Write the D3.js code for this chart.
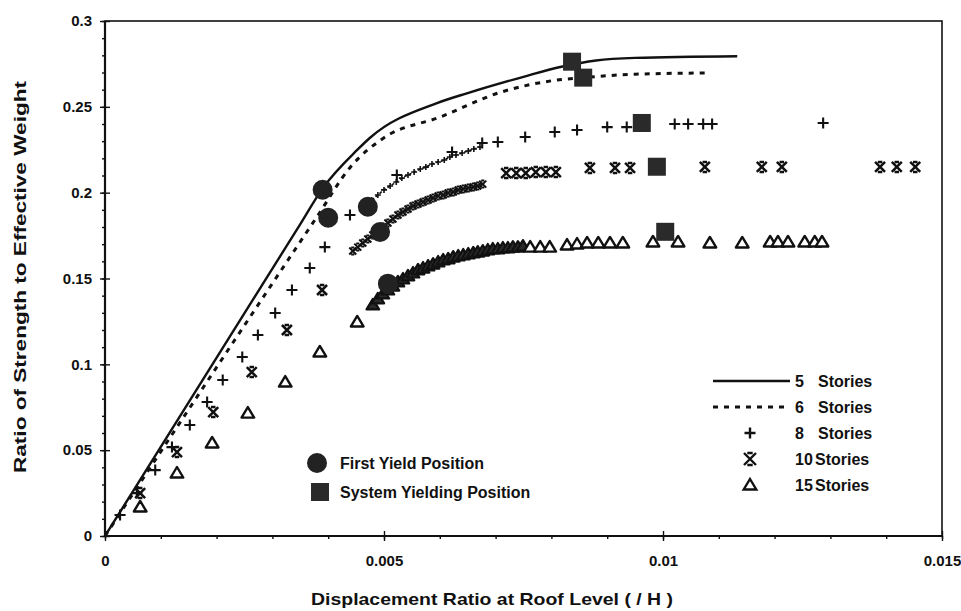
<!DOCTYPE html>
<html>
<head>
<meta charset="utf-8">
<script src="https://cdn.jsdelivr.net/npm/d3@7"></script>
<style>
  body { margin: 0; background: #fff; }
  svg text { font-family: "Liberation Sans", Arial, sans-serif; font-weight: bold; fill: #111; }
</style>
</head>
<body>
<svg id="chart" width="961" height="611"></svg>
<script>
// tick values
const xTicks = [0, 0.005, 0.01, 0.015];
const yTicks = [0, 0.05, 0.1, 0.15, 0.2, 0.25, 0.3];
const seriesNumbers = ["5", "6", "8", "10", "15"];

// 5 stories (solid line)
const stories5 = [[0, 0], [0.0035, 0.1817], [0.0039, 0.2025], [0.00452, 0.2249], [0.00475, 0.232], [0.00595, 0.2522],
  [0.0065, 0.258], [0.0075, 0.2675], [0.0082, 0.2735], [0.0088, 0.277], [0.0095, 0.2785], [0.01133, 0.2795]];
// 6 stories (dashed line)
const stories6 = [[0, 0], [0.0038, 0.186], [0.0044, 0.215], [0.005, 0.232], [0.006, 0.244], [0.0071, 0.2586],
  [0.0081, 0.2656], [0.00857, 0.267], [0.0095, 0.269], [0.01075, 0.2697]];

// 8 stories (+)
const stories8 = [[0.00027, 0.0122], [0.00057, 0.025], [0.0009, 0.0384], [0.0012, 0.0518], [0.00152, 0.0647],
  [0.00183, 0.0781], [0.00211, 0.0909], [0.00246, 0.1043], [0.00274, 0.1171], [0.00305, 0.1299], [0.00335, 0.1433],
  [0.00367, 0.1561], [0.00394, 0.1683], [0.00439, 0.187], [0.00523, 0.2103], [0.00622, 0.2237], [0.00676, 0.2289],
  [0.00704, 0.2295], [0.00753, 0.2324], [0.00806, 0.2353], [0.00846, 0.2365], [0.009, 0.2382], [0.00935, 0.2382],
  [0.01021, 0.24], [0.01045, 0.24], [0.01072, 0.24], [0.01088, 0.24], [0.01287, 0.2406]];
const stories8Dense = [[0.00478, 0.1957], [0.00489, 0.1986], [0.005, 0.2016], [0.00511, 0.2039], [0.00522, 0.2062],
  [0.00532, 0.2085], [0.00543, 0.2103], [0.00554, 0.212], [0.00565, 0.2138], [0.00575, 0.2149], [0.00586, 0.2167],
  [0.00597, 0.2179], [0.00608, 0.219], [0.00618, 0.2208], [0.00629, 0.2219], [0.0064, 0.2231], [0.00651, 0.2243],
  [0.00661, 0.2254], [0.00672, 0.2266]];

// 10 stories (star)
const stories10 = [[0.00063, 0.025], [0.00129, 0.0489], [0.00194, 0.0722], [0.00263, 0.0955], [0.00326, 0.12],
  [0.00389, 0.1433], [0.00719, 0.2114], [0.00737, 0.2114], [0.00754, 0.2114], [0.00772, 0.212], [0.0079, 0.212],
  [0.00808, 0.212], [0.00869, 0.2144], [0.00914, 0.2144], [0.00941, 0.2144], [0.01075, 0.215], [0.01177, 0.215],
  [0.01213, 0.215], [0.01389, 0.215], [0.01419, 0.215], [0.01452, 0.215]];
const stories10Dense = [[0.00444, 0.166], [0.00453, 0.1683], [0.00462, 0.1707], [0.00471, 0.173], [0.0048, 0.1753],
  [0.00489, 0.1777], [0.00498, 0.18], [0.00507, 0.1823], [0.00516, 0.1847], [0.00525, 0.187], [0.00534, 0.1887],
  [0.00543, 0.1905], [0.00552, 0.1922], [0.00561, 0.1934], [0.0057, 0.1946], [0.00579, 0.1957], [0.00588, 0.1969],
  [0.00597, 0.1981], [0.00606, 0.1986], [0.00615, 0.1998], [0.00624, 0.2004], [0.00633, 0.2016], [0.00642, 0.2021],
  [0.00651, 0.2027], [0.0066, 0.2033], [0.00668, 0.2039], [0.00677, 0.205]];

// 15 stories (triangle)
const stories15 = [[0.00063, 0.0169], [0.00129, 0.0367], [0.00192, 0.0542], [0.00256, 0.0716], [0.00323, 0.0897],
  [0.00385, 0.1072], [0.00452, 0.1247], [0.00762, 0.1683], [0.0078, 0.1683], [0.00797, 0.1683], [0.00828, 0.1695],
  [0.00846, 0.1701], [0.00864, 0.1707], [0.00884, 0.1707], [0.00905, 0.1707], [0.00928, 0.1707], [0.00982, 0.1713],
  [0.01027, 0.1713], [0.01084, 0.1707], [0.01142, 0.1707], [0.01192, 0.1713], [0.01206, 0.1713], [0.01224, 0.1713],
  [0.01254, 0.1713], [0.01272, 0.1713], [0.01285, 0.1713]];
const stories15Dense = [[0.0048, 0.1346], [0.00489, 0.1381], [0.00498, 0.141], [0.00507, 0.1433], [0.00516, 0.1456],
  [0.00525, 0.148], [0.00534, 0.1497], [0.00543, 0.1515], [0.00552, 0.1532], [0.00561, 0.155], [0.0057, 0.1561],
  [0.00579, 0.1573], [0.00588, 0.1584], [0.00597, 0.1596], [0.00606, 0.1608], [0.00615, 0.1614], [0.00624, 0.1625],
  [0.00633, 0.1631], [0.00642, 0.1637], [0.00651, 0.1643], [0.0066, 0.1649], [0.00668, 0.1654], [0.00677, 0.166],
  [0.00686, 0.1666], [0.00695, 0.1672], [0.00704, 0.1672], [0.00713, 0.1678], [0.00722, 0.1678], [0.00731, 0.1683],
  [0.0074, 0.1683], [0.00749, 0.1689]];

// yield points, one per building (5, 6, 8, 10, 15 stories)
const firstYield = [[0.0039, 0.2017], [0.004, 0.1854], [0.00471, 0.1918], [0.00493, 0.1771], [0.00507, 0.147]];
const systemYield = [[0.00837, 0.2763], [0.00857, 0.267], [0.00962, 0.2406], [0.00989, 0.2151], [0.01004, 0.1772]];

const W = 961, H = 611;
const margin = { top: 21, right: 19, bottom: 75, left: 105 };
const ink = "#111";

const svg = d3.select("#chart");
const x = d3.scaleLinear().domain([0, 0.015]).range([margin.left, W - margin.right]);
const y = d3.scaleLinear().domain([0, 0.3]).range([H - margin.bottom, margin.top]);

// frame
svg.append("rect")
  .attr("x", x(0)).attr("y", y(0.3))
  .attr("width", x(0.015) - x(0)).attr("height", y(0) - y(0.3))
  .attr("fill", "none").attr("stroke", ink).attr("stroke-width", 1.6);

function styleAxis(g) {
  g.selectAll(".domain").remove();
  g.selectAll("line").attr("stroke", ink).attr("stroke-width", 1.4);
  g.selectAll("text").attr("font-size", 15).attr("font-family", null).attr("fill", ink);
}

// x axis
svg.append("g").attr("transform", `translate(0,${y(0)})`)
  .call(d3.axisBottom(x).tickValues(d3.range(0, 0.0151, 0.001)).tickSize(3).tickFormat(""))
  .call(styleAxis);
svg.append("g").attr("transform", `translate(0,${y(0)})`)
  .call(d3.axisTop(x).tickValues(xTicks).tickSize(5).tickFormat(""))
  .call(styleAxis);
svg.append("g").attr("transform", `translate(0,${y(0)})`)
  .call(d3.axisBottom(x).tickValues(xTicks).tickSize(5).tickPadding(14).tickFormat(d => String(d)))
  .call(styleAxis);

// y axis
svg.append("g").attr("transform", `translate(${x(0)},0)`)
  .call(d3.axisLeft(y).tickValues(d3.range(0, 0.301, 0.01)).tickSize(3).tickFormat(""))
  .call(styleAxis);
svg.append("g").attr("transform", `translate(${x(0)},0)`)
  .call(d3.axisRight(y).tickValues(yTicks).tickSize(5).tickFormat(""))
  .call(styleAxis);
svg.append("g").attr("transform", `translate(${x(0)},0)`)
  .call(d3.axisLeft(y).tickValues(yTicks).tickSize(5).tickPadding(8).tickFormat(d => String(d)))
  .call(styleAxis);

// axis lines heavier
svg.append("line").attr("x1", x(0)).attr("x2", x(0.015)).attr("y1", y(0)).attr("y2", y(0))
  .attr("stroke", ink).attr("stroke-width", 2.2);
svg.append("line").attr("x1", x(0)).attr("x2", x(0)).attr("y1", y(0)).attr("y2", y(0.3))
  .attr("stroke", ink).attr("stroke-width", 2.2);

// titles
svg.append("text").attr("x", 492).attr("y", 605).attr("text-anchor", "middle")
  .attr("font-size", 17).attr("textLength", 362).attr("lengthAdjust", "spacingAndGlyphs")
  .text("Displacement Ratio at Roof Level ( / H )");
svg.append("text").attr("transform", "translate(26,277) rotate(-90)").attr("text-anchor", "middle")
  .attr("font-size", 17).attr("textLength", 392).attr("lengthAdjust", "spacingAndGlyphs")
  .text("Ratio of Strength to Effective Weight");

// marker shapes
const shapes = {
  plus: s => `M${-s},0H${s}M0,${-s}V${s}`,
  star: s => `M${-s},${-s}L${s},${s}M${-s},${s}L${s},${-s}M${-s * 0.45},${-s}H${s * 0.45}M${-s * 0.45},${s}H${s * 0.45}`,
  tri: s => `M0,${-s}L${s * 1.05},${s * 0.75}H${-s * 1.05}Z`
};

function drawMarks(data, shape, size, width, fill) {
  svg.append("g").selectAll("path").data(data).join("path")
    .attr("transform", d => `translate(${x(d[0])},${y(d[1])})`)
    .attr("d", shapes[shape](size))
    .attr("fill", fill || "none")
    .attr("stroke", ink).attr("stroke-width", width)
    .attr("stroke-linejoin", "round");
}

const line = d3.line().x(d => x(d[0])).y(d => y(d[1])).curve(d3.curveMonotoneX);

// thin trails through the dense parts
[stories8Dense, stories10Dense].forEach(arr => {
  svg.append("path").datum(arr).attr("d", line)
    .attr("fill", "none").attr("stroke", ink).attr("stroke-width", 1.6).attr("stroke-dasharray", "3,2");
});

svg.append("path").datum(stories5).attr("d", line)
  .attr("fill", "none").attr("stroke", ink).attr("stroke-width", 2.4);
svg.append("path").datum(stories6).attr("d", line)
  .attr("fill", "none").attr("stroke", ink).attr("stroke-width", 3).attr("stroke-dasharray", "5,6");

drawMarks(stories8Dense, "plus", 3, 1.6);
drawMarks(stories8, "plus", 5.5, 2.1);
drawMarks(stories10Dense, "star", 3.5, 2);
drawMarks(stories10, "star", 5, 2.5);
drawMarks(stories15Dense, "tri", 6, 2.2, "#2a2a2a");
drawMarks(stories15, "tri", 6, 2.4, "#fff");

// yield markers
svg.append("g").selectAll("circle").data(firstYield).join("circle")
  .attr("cx", d => x(d[0])).attr("cy", d => y(d[1])).attr("r", 10).attr("fill", "#222");
svg.append("g").selectAll("rect").data(systemYield).join("rect")
  .attr("x", d => x(d[0]) - 9).attr("y", d => y(d[1]) - 9).attr("width", 18).attr("height", 18)
  .attr("fill", "#2a2a2a");

// legend, right
const legR = svg.append("g").attr("transform", "translate(713,381)");
seriesNumbers.forEach((n, i) => {
  const row = legR.append("g").attr("transform", `translate(0,${i * 26})`);
  if (i === 0) row.append("line").attr("x1", 0).attr("x2", 77).attr("stroke", ink).attr("stroke-width", 2.4);
  if (i === 1) row.append("line").attr("x1", 0).attr("x2", 77).attr("stroke", ink).attr("stroke-width", 3).attr("stroke-dasharray", "5,6");
  if (i >= 2) {
    const shp = ["plus", "star", "tri"][i - 2];
    row.append("path").attr("transform", "translate(37,0)").attr("d", shapes[shp](i === 2 ? 5.5 : 6))
      .attr("fill", shp === "tri" ? "#fff" : "none").attr("stroke", ink).attr("stroke-width", 2.4);
  }
  row.append("text").attr("x", 82).attr("y", 6).attr("font-size", 16).text(n);
  row.append("text").attr("x", n.length > 1 ? 102 : 105).attr("y", 6).attr("font-size", 16).text("Stories");
});

// legend, left
const legL = svg.append("g").attr("transform", "translate(317,463)");
legL.append("circle").attr("r", 10).attr("fill", "#222");
legL.append("text").attr("x", 23).attr("y", 6).attr("font-size", 16).text("First Yield Position");
legL.append("rect").attr("x", -6).attr("y", 20).attr("width", 18).attr("height", 18).attr("fill", "#2a2a2a");
legL.append("text").attr("x", 23).attr("y", 35).attr("font-size", 16).text("System Yielding Position");
</script>
</body>
</html>
